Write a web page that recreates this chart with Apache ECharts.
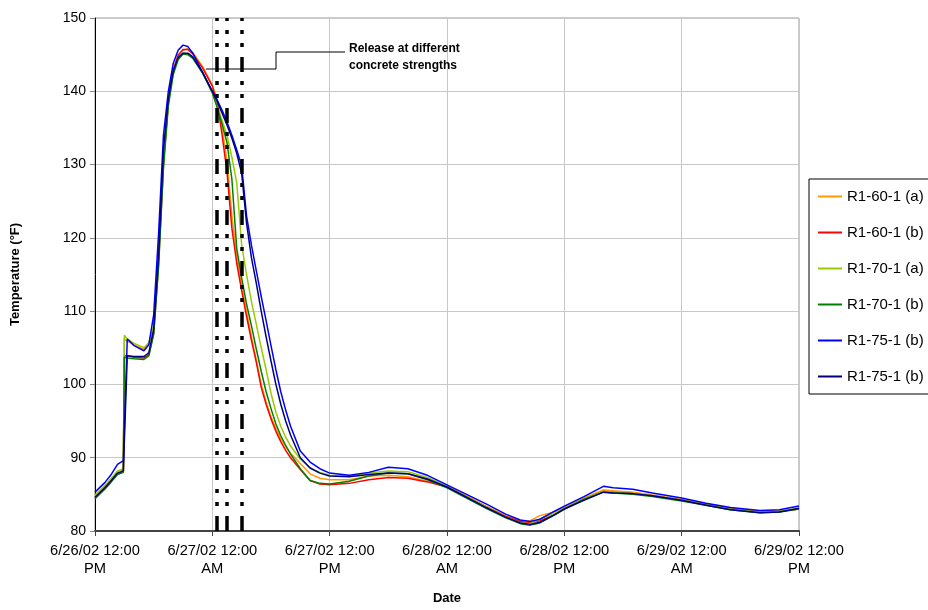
<!DOCTYPE html>
<html>
<head>
<meta charset="utf-8">
<script src="https://cdn.jsdelivr.net/npm/echarts@6/dist/echarts.min.js"></script>
<style>
  html, body { margin: 0; padding: 0; background: #fff; }
  #chart { width: 928px; height: 610px; }
</style>
</head>
<body>
<div id="chart"></div>
<script>
// hours after 6/26/02 12:00 PM
const hours = [0, 1, 1.6, 2.3, 2.9, 3.0, 3.3, 4, 5, 5.5,
  6, 6.5, 7, 7.5, 8, 8.5, 9, 9.5, 10, 11, 12,
  12.5, 13, 13.5, 14, 14.5, 15, 15.5, 16, 16.5, 17, 17.5, 18, 18.5, 19, 19.5, 20,
  21, 22, 23, 24, 26, 28, 30, 32, 34,
  36, 38, 40, 42, 43.5, 44.5, 45.5, 47, 48, 50, 52, 53, 55, 57, 60, 62.5, 65, 68, 70, 72]

const r160a = [84.8, 86.1, 87.0, 88.1, 88.4, 106.2, 105.9, 105.4, 104.8, 105.4,
  107.8, 117.5, 130.5, 138.5, 143.0, 145.0, 145.6, 145.8, 145.3, 143.4, 140.8,
  138.8, 135.0, 130.5, 123.0, 117.5, 113.5, 110.0, 106.5, 103.3, 100.0, 97.6, 95.6, 94.0, 92.6, 91.5, 90.6,
  89.2, 87.8, 87.2, 87.0, 87.0, 87.5, 87.6, 87.4, 86.8,
  86.1, 84.8, 83.4, 82.1, 81.4, 81.4, 82.1, 82.6, 83.2, 84.5, 85.6, 85.5, 85.3, 84.9, 84.3, 83.7, 83.1, 82.7, 82.7, 83.0]
const r160b = [84.5, 85.8, 86.7, 87.8, 88.1, 103.9, 103.9, 103.7, 103.6, 104.0,
  107.0, 116.5, 130.0, 138.5, 142.8, 144.9, 145.7, 145.7, 145.1, 143.2, 140.7,
  138.5, 134.0, 129.0, 121.3, 116.5, 112.8, 109.3, 106.0, 103.0, 99.6, 97.3, 95.3, 93.6, 92.2, 91.0, 90.0,
  88.4, 86.9, 86.4, 86.3, 86.5, 87.0, 87.3, 87.2, 86.7,
  86.0, 84.7, 83.3, 82.0, 81.3, 81.1, 81.4, 82.3, 83.1, 84.4, 85.4, 85.3, 85.1, 84.8, 84.2, 83.6, 83.0, 82.6, 82.7, 83.0]
const r170a = [84.9, 86.2, 87.1, 88.2, 88.5, 106.7, 106.2, 105.6, 105.0, 105.7,
  108.0, 118.0, 131.0, 138.5, 142.5, 144.5, 145.2, 145.1, 144.6, 142.5, 139.8,
  137.9, 136.0, 134.0, 131.0, 127.5, 119.0, 115.0, 111.3, 108.2, 105.0, 102.0, 98.8, 96.2, 94.3, 92.8, 91.6,
  89.8, 88.6, 88.0, 87.6, 87.5, 87.9, 88.2, 88.1, 87.3,
  86.1, 84.7, 83.3, 81.9, 81.1, 81.0, 81.6, 82.4, 83.1, 84.4, 85.4, 85.3, 85.1, 84.8, 84.2, 83.6, 83.0, 82.6, 82.7, 83.1]
const r170b = [84.4, 85.7, 86.6, 87.7, 88.0, 103.7, 103.6, 103.5, 103.4, 103.9,
  106.8, 116.0, 129.5, 138.0, 142.3, 144.3, 145.1, 145.0, 144.5, 142.5, 139.8,
  137.8, 135.5, 133.0, 128.0, 118.5, 114.5, 111.0, 108.0, 104.8, 101.8, 99.0, 96.7, 94.6, 93.0, 91.7, 90.5,
  88.5, 86.9, 86.5, 86.4, 86.8, 87.5, 87.9, 87.8, 87.0,
  85.9, 84.5, 83.1, 81.8, 81.0, 80.8, 81.1, 82.2, 83.0, 84.3, 85.3, 85.2, 85.0, 84.7, 84.1, 83.5, 82.9, 82.5, 82.6, 83.0]
const r175b = [85.3, 86.6, 87.6, 89.1, 89.6, 89.7, 106.2, 105.3, 104.6, 105.4,
  109.5, 120.5, 134.0, 140.0, 143.8, 145.6, 146.3, 146.1, 145.2, 142.6, 140.0,
  138.8, 137.4, 135.8, 134.0, 132.0, 129.8, 123.0, 119.0, 115.5, 112.0, 108.7, 105.3, 102.0, 99.0, 96.5, 94.3,
  90.9, 89.4, 88.5, 87.9, 87.6, 88.0, 88.7, 88.5, 87.6,
  86.3, 85.0, 83.7, 82.3, 81.5, 81.3, 81.6, 82.7, 83.4, 84.7, 86.1, 85.9, 85.7, 85.2, 84.5, 83.8, 83.2, 82.8, 82.9, 83.4]
const r175b2 = [84.6, 85.9, 86.8, 87.9, 88.2, 88.3, 103.9, 103.8, 103.8, 104.3,
  107.5, 117.5, 132.0, 139.0, 142.8, 144.6, 145.2, 145.2, 144.7, 142.6, 140.0,
  138.6, 137.0, 135.4, 133.6, 131.5, 128.8, 122.0, 117.3, 113.8, 110.0, 106.5, 103.2, 100.0, 97.3, 95.0, 93.1,
  90.0, 88.6, 87.9, 87.5, 87.4, 87.7, 87.9, 87.8, 87.1,
  86.0, 84.6, 83.2, 81.9, 81.1, 80.9, 81.2, 82.2, 83.0, 84.2, 85.3, 85.2, 85.1, 84.8, 84.2, 83.5, 82.9, 82.5, 82.6, 83.1]

const seriesNames = ['R1-60-1 (a)', 'R1-60-1 (b)', 'R1-70-1 (a)', 'R1-70-1 (b)', 'R1-75-1 (b)', 'R1-75-1 (b) ']
const seriesColors = ['#FF9900', '#FF0000', '#99CC00', '#008000', '#0000FF', '#000080']
const seriesValues = [r160a, r160b, r170a, r170b, r175b, r175b2]

const tickLabels = ['6/26/02 12:00\nPM', '6/27/02 12:00\nAM', '6/27/02 12:00\nPM', '6/28/02 12:00\nAM',
  '6/28/02 12:00\nPM', '6/29/02 12:00\nAM', '6/29/02 12:00\nPM']
// release times (hours)
const releaseHours = [12.45, 13.47, 15.05]

const chart = echarts.init(document.getElementById('chart'))

const series = seriesValues.map((vals, i) => {
  const s = {
    name: seriesNames[i],
    type: 'line',
    data: hours.map((h, j) => [h, vals[j]]),
    showSymbol: false,
    symbol: 'none',
    lineStyle: { color: seriesColors[i], width: 1.5 },
    itemStyle: { color: seriesColors[i] },
    silent: true
  }
  if (i === 0) {
    s.markLine = {
      silent: true,
      symbol: ['none', 'none'],
      label: { show: false },
      lineStyle: { color: '#000', width: 3.5, type: [15, 10, 4, 9, 4, 9], opacity: 1 },
      data: releaseHours.map(h => ({ xAxis: h }))
    }
  }
  return s
})

const option = {
  animation: false,
  backgroundColor: '#fff',
  textStyle: { fontFamily: 'Arial, "Liberation Sans", sans-serif' },
  grid: {
    left: 95, right: 129, top: 18, bottom: 69,
    show: true, borderColor: '#999', borderWidth: 1, backgroundColor: 'transparent'
  },
  legend: {
    orient: 'vertical',
    left: 809, top: 179,
    padding: [10, 40, 10, 9],
    itemGap: 21,
    itemWidth: 24, itemHeight: 2,
    icon: 'rect',
    borderColor: '#000', borderWidth: 1,
    textStyle: { fontSize: 15, color: '#000', lineHeight: 14 },
    data: seriesNames
  },
  xAxis: {
    type: 'value',
    min: 0, max: 72, interval: 12,
    name: 'Date',
    nameLocation: 'middle',
    nameGap: 61,
    nameTextStyle: { fontSize: 13, fontWeight: 'bold', color: '#000' },
    axisLine: { lineStyle: { color: '#444', width: 2 } },
    axisTick: { show: true, length: 5, lineStyle: { color: '#444' } },
    axisLabel: {
      fontSize: 14.7, color: '#000', lineHeight: 18, margin: 11,
      formatter: v => tickLabels[Math.round(v / 12)]
    },
    splitLine: { lineStyle: { color: '#C8C8C8', width: 1 } }
  },
  yAxis: {
    type: 'value',
    min: 80, max: 150, interval: 10,
    name: 'Temperature (°F)',
    nameLocation: 'middle',
    nameGap: 73,
    nameTextStyle: { fontSize: 13, fontWeight: 'bold', color: '#000' },
    axisLine: { show: true, lineStyle: { color: '#000', width: 1 } },
    axisTick: { show: true, length: 5, lineStyle: { color: '#888' } },
    axisLabel: { fontSize: 14, color: '#000', margin: 9 },
    splitLine: { lineStyle: { color: '#C8C8C8', width: 1 } }
  },
  graphic: [
    {
      type: 'polyline',
      shape: { points: [[206, 69], [276, 69], [276, 52], [345, 52]] },
      style: { stroke: '#000', lineWidth: 1, fill: null },
      z: 100
    },
    {
      type: 'text',
      left: 349, top: 40,
      style: {
        text: 'Release at different\nconcrete strengths',
        font: 'bold 12px Arial, "Liberation Sans", sans-serif',
        lineHeight: 17,
        fill: '#000'
      },
      z: 100
    }
  ],
  series: series
}

chart.setOption(option)
</script>
</body>
</html>
